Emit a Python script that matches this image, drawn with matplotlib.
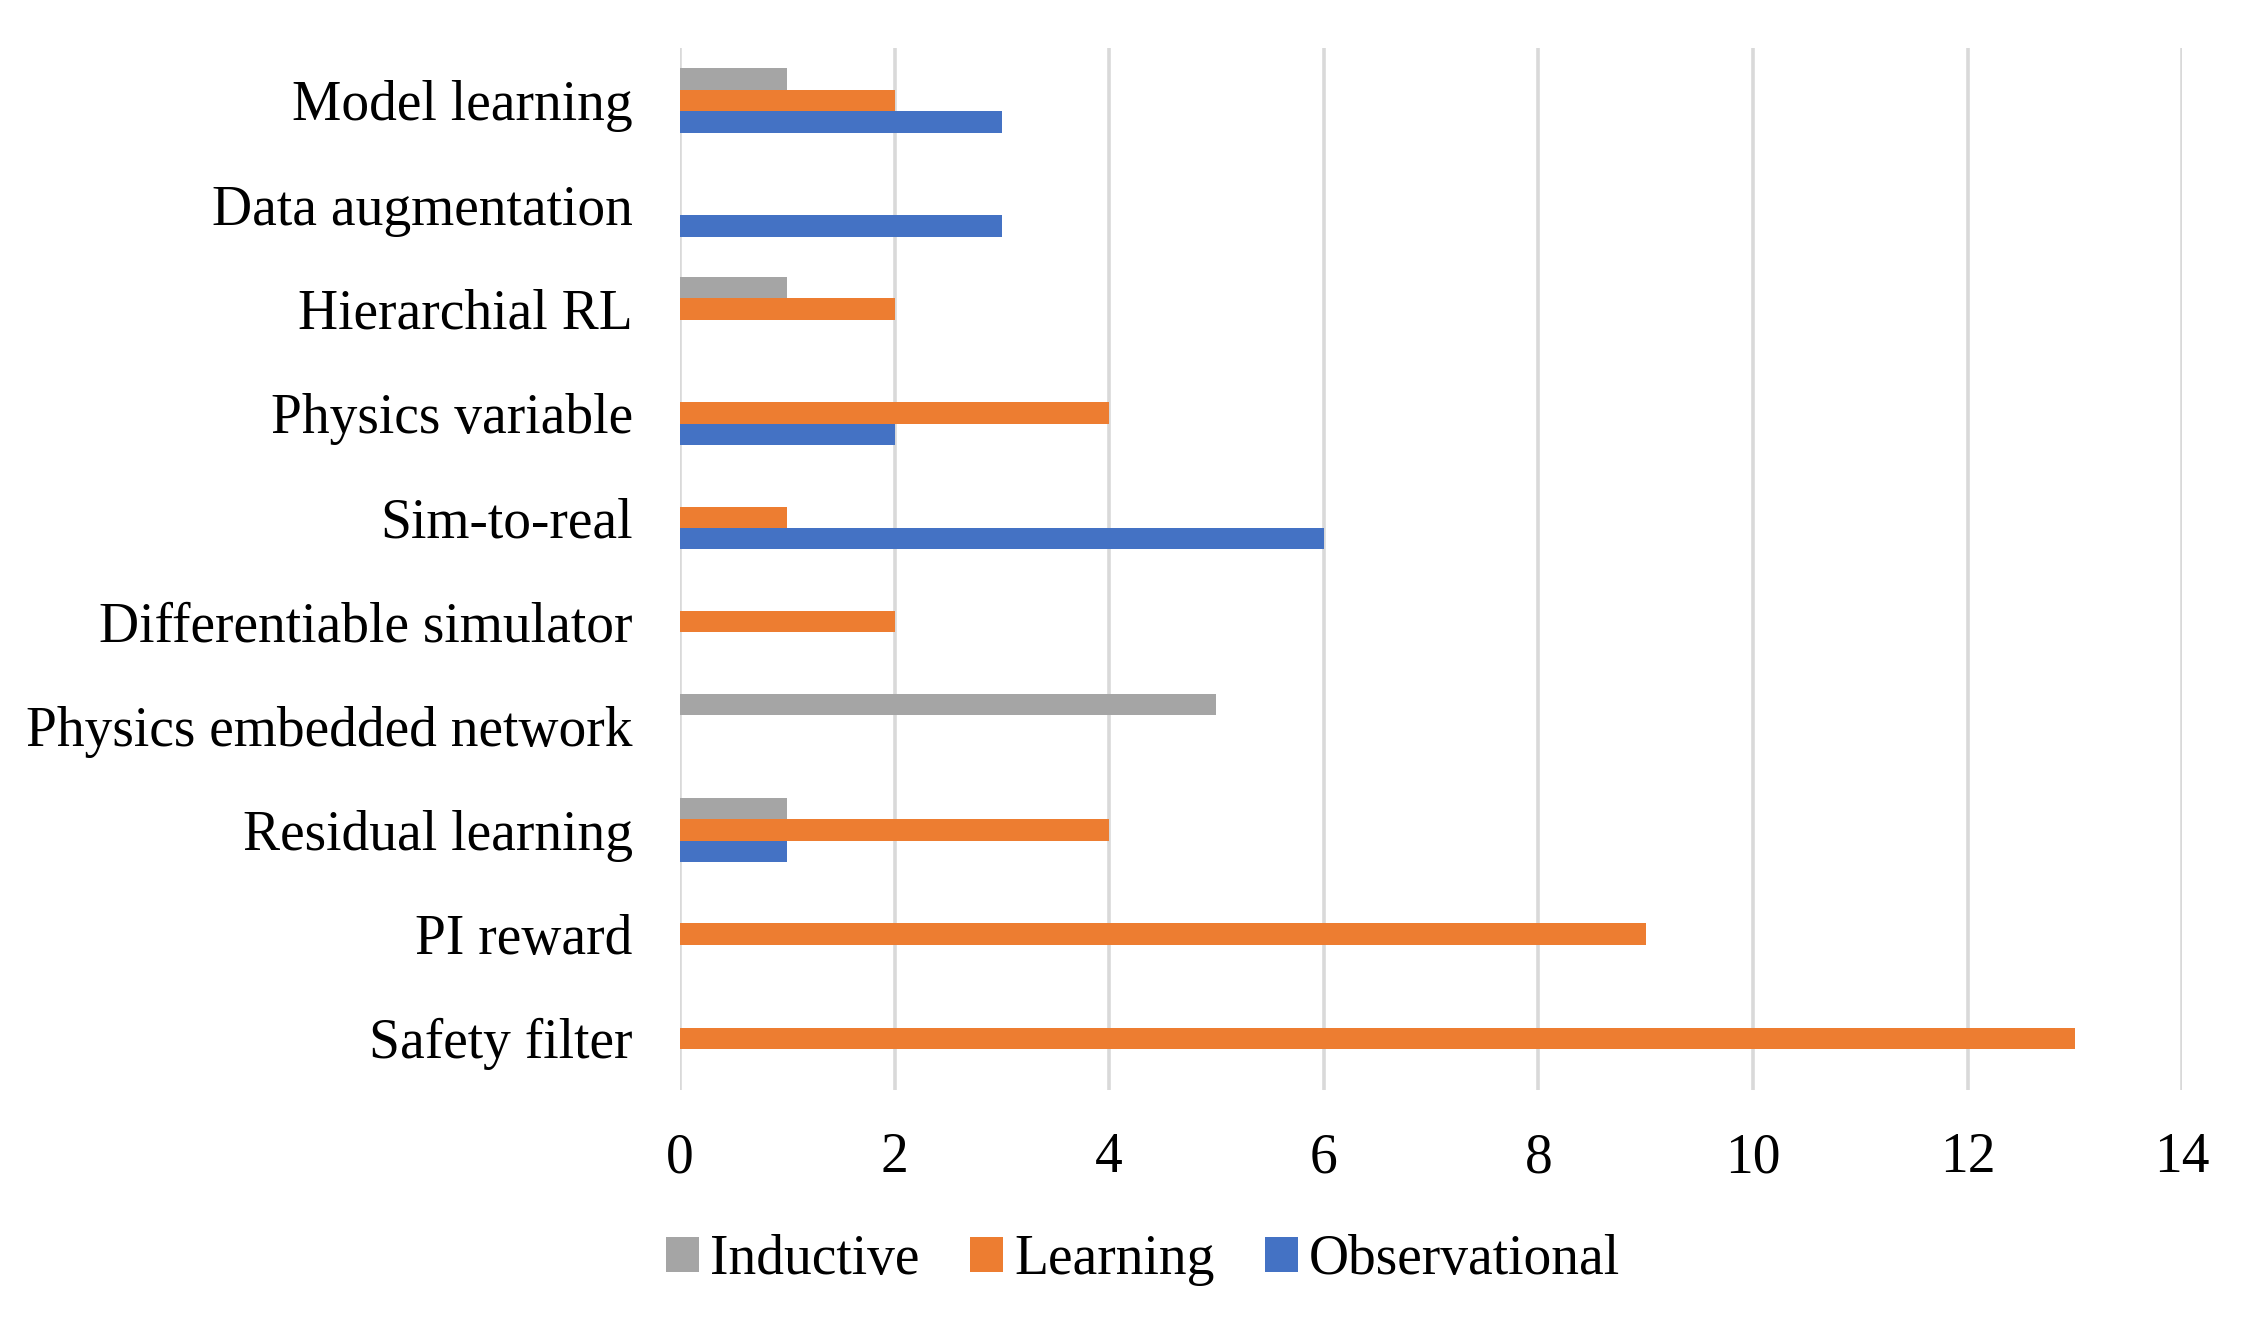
import numpy as np
import matplotlib.pyplot as plt
from matplotlib.patches import Patch

# categories listed bottom -> top, as drawn
categories = ['Safety filter', 'PI reward', 'Residual learning',
              'Physics embedded network', 'Differentiable simulator',
              'Sim-to-real', 'Physics variable', 'Hierarchial RL',
              'Data augmentation', 'Model learning']
inductive = [0, 0, 1, 5, 0, 0, 0, 1, 0, 1]
learning = [13, 9, 4, 0, 2, 1, 4, 2, 0, 2]
observational = [0, 0, 1, 0, 0, 6, 2, 0, 3, 3]
series_names = ['Inductive', 'Learning', 'Observational']
series_colors = ['#A5A5A5', '#ED7D31', '#4472C4']
xticks = [0, 2, 4, 6, 8, 10, 12, 14]

plt.rcParams['font.family'] = ['Liberation Serif', 'DejaVu Serif']

fig = plt.figure(figsize=(11.295, 6.625), dpi=200)
ax = fig.add_axes([0.301, 0.177, 0.665, 0.7865])

y = np.arange(len(categories))
h = 0.205
offsets = [h, 0, -h]
for vals, off, col in zip([inductive, learning, observational], offsets, series_colors):
    ax.barh(y + off, vals, height=h, color=col, zorder=3)

ax.set_ylim(-0.5, len(categories) - 0.5)
ax.set_xlim(0, 14)
ax.set_yticks(y)
ax.set_yticklabels(categories, fontsize=20)
ax.set_xticks(xticks)
ax.set_xticklabels([str(t) for t in xticks], fontsize=20)
ax.tick_params(axis='y', length=0, pad=17)
ax.tick_params(axis='x', length=0, pad=15)
ax.grid(axis='x', color='#D9D9D9', linewidth=1.3, zorder=0)
for s in ax.spines.values():
    s.set_visible(False)

handles = [Patch(facecolor=c, label=n) for n, c in zip(series_names, series_colors)]
fig.legend(handles=handles, loc='center', bbox_to_anchor=(0.506, 0.049), ncol=3,
           frameon=False, fontsize=20, handlelength=0.6, handleheight=0.6,
           handletextpad=0.2, columnspacing=0.9)

fig.savefig('out.png', dpi=200)
